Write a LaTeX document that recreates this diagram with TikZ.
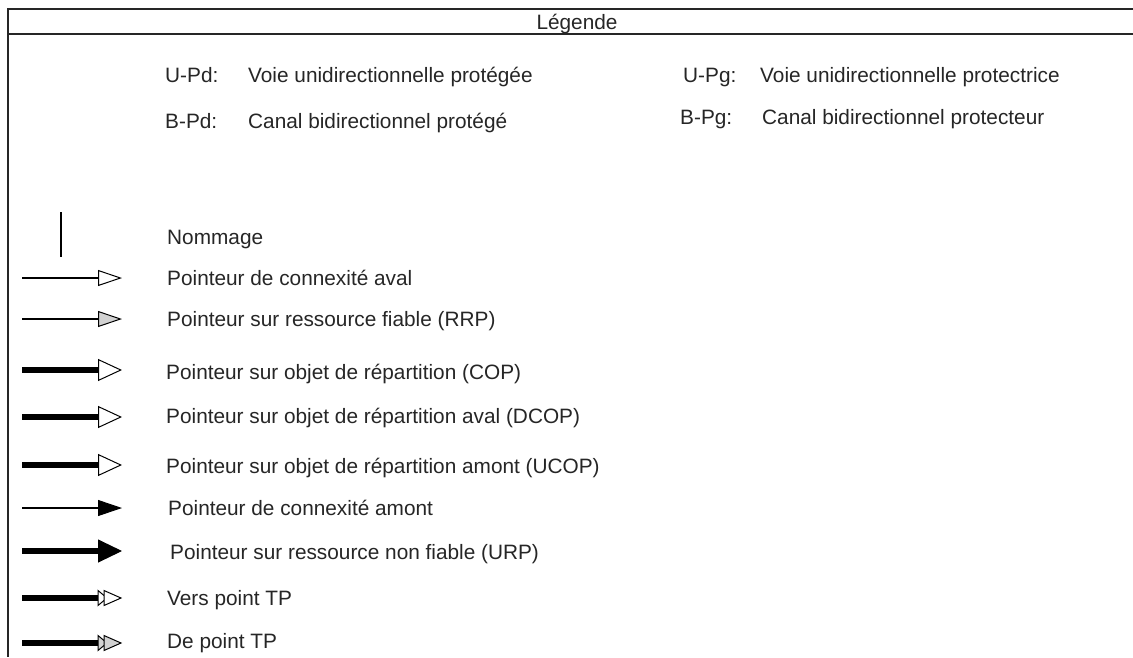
\documentclass[tikz,border=0pt]{standalone}
\usepackage{fontspec}
\setmainfont{Liberation Sans}
\usetikzlibrary{arrows.meta}
\begin{document}
\begin{tikzpicture}[x=1pt,y=-1pt,
  frame/.style={line width=1.6pt,black!85},
  lbl/.style={anchor=base west,inner sep=0pt,font=\fontsize{20.8}{24}\selectfont,text=black!85},
  thinline/.style={line width=2pt},
  thickline/.style={line width=6pt},
  openhead/.style={-{Triangle[open,length=24pt,width=#1,line width=1pt]}},
  grayhead/.style={-{Triangle[length=24pt,width=#1,line width=1pt,fill=gray!35]}},
  blackhead/.style={-{Triangle[length=24pt,width=#1,line width=1pt]}},
  tphead/.style={draw=black,line width=1pt,line join=miter,fill=#1}
]
\useasboundingbox (0,0) rectangle (1133,657);
\fill[white] (0,0) rectangle (1133,657);
% frame
\coordinate (tl) at (8,9);
\coordinate (tr) at (1133,9);
\coordinate (ml) at (8,34);
\coordinate (mr) at (1133,34);
\coordinate (bl) at (8,657);
\draw[frame] (tr) -- (tl) -- (bl);
\draw[frame] (ml) -- (mr);
\node[anchor=base,inner sep=0pt,font=\fontsize{20.8}{24}\selectfont,text=black!85] (title) at (577,29) {Légende};
% abbreviations
\node[lbl] (upd) at (165,82) {U-Pd:};
\node[lbl] (updt) at (248,82) {Voie unidirectionnelle protégée};
\node[lbl] (bpd) at (165,128) {B-Pd:};
\node[lbl] (bpdt) at (248,128) {Canal bidirectionnel protégé};
\node[lbl] (upg) at (683,82) {U-Pg:};
\node[lbl] (upgt) at (760,82) {Voie unidirectionnelle protectrice};
\node[lbl] (bpg) at (680,124) {B-Pg:};
\node[lbl] (bpgt) at (762,124) {Canal bidirectionnel protecteur};
% Nommage
\coordinate (n1) at (61,212);
\coordinate (n2) at (61,257);
\draw[thinline] (n1) -- (n2);
\node[lbl] (nom) at (167,244) {Nommage};
% arrows
\coordinate (a1) at (22,278); \coordinate (b1) at (122,278);
\draw[thinline,openhead=16pt] (a1) -- (b1);
\node[lbl] (t1) at (167,285) {Pointeur de connexité aval};
\coordinate (a2) at (22,319); \coordinate (b2) at (122,319);
\draw[thinline,grayhead=16pt] (a2) -- (b2);
\node[lbl] (t2) at (167,326) {Pointeur sur ressource fiable (RRP)};
\coordinate (a3) at (22,370); \coordinate (b3) at (122,370);
\draw[thickline,openhead=22pt] (a3) -- (b3);
\node[lbl] (t3) at (166,379) {Pointeur sur objet de répartition (COP)};
\coordinate (a4) at (22,417); \coordinate (b4) at (122,417);
\draw[thickline,openhead=22pt] (a4) -- (b4);
\node[lbl] (t4) at (166,423) {Pointeur sur objet de répartition aval (DCOP)};
\coordinate (a5) at (22,465); \coordinate (b5) at (122,465);
\draw[thickline,openhead=22pt] (a5) -- (b5);
\node[lbl] (t5) at (166,473) {Pointeur sur objet de répartition amont (UCOP)};
\coordinate (a6) at (22,508); \coordinate (b6) at (122,508);
\draw[thinline,blackhead=16pt] (a6) -- (b6);
\node[lbl] (t6) at (168,515) {Pointeur de connexité amont};
\coordinate (a7) at (22,551); \coordinate (b7) at (122,551);
\draw[thickline,blackhead=23pt] (a7) -- (b7);
\node[lbl] (t7) at (170,559) {Pointeur sur ressource non fiable (URP)};
% double heads (TP)
\coordinate (a8) at (22,598); \coordinate (b8) at (121,598);
\draw[thickline,shorten >=23pt] (a8) -- (b8);
\draw[tphead=white] ([xshift=-23pt,yshift=-7.5pt]b8) -- ([xshift=-14pt]b8) -- ([xshift=-23pt,yshift=7.5pt]b8) -- cycle;
\draw[tphead=white] ([xshift=-17pt,yshift=-7.5pt]b8) -- (b8) -- ([xshift=-17pt,yshift=7.5pt]b8) -- cycle;
\node[lbl] (t8) at (167,605) {Vers point TP};
\coordinate (a9) at (22,643); \coordinate (b9) at (121,643);
\draw[thickline,shorten >=23pt] (a9) -- (b9);
\draw[tphead=gray!35] ([xshift=-23pt,yshift=-7.5pt]b9) -- ([xshift=-14pt]b9) -- ([xshift=-23pt,yshift=7.5pt]b9) -- cycle;
\draw[tphead=gray!35] ([xshift=-17pt,yshift=-7.5pt]b9) -- (b9) -- ([xshift=-17pt,yshift=7.5pt]b9) -- cycle;
\node[lbl] (t9) at (167,648) {De point TP};
\end{tikzpicture}
\end{document}
